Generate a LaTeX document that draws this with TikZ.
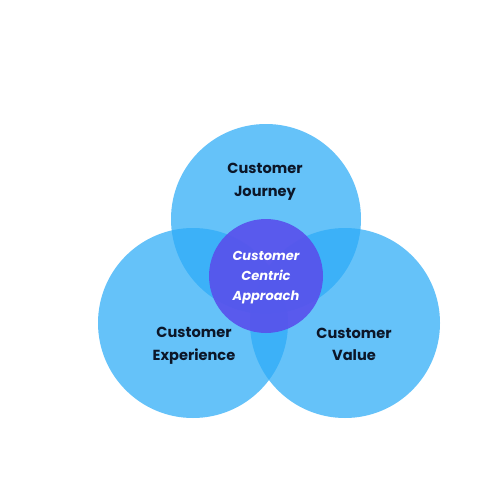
\documentclass[tikz,border=0pt]{standalone}
\usepackage{fontspec}
\setmainfont{Poppins}
\definecolor{bluec}{RGB}{45,172,248}
\definecolor{purplec}{RGB}{88,82,236}
\definecolor{navy}{RGB}{12,22,40}
\begin{document}
\begin{tikzpicture}[x=1pt,y=-1pt,
  venn/.style={circle,fill=bluec,fill opacity=0.73,minimum size=190pt,inner sep=0pt},
  core/.style={circle,fill=purplec,fill opacity=0.92,minimum size=114pt,inner sep=0pt},
  lbl/.style={text=navy,font=\fontsize{14.6}{22.5}\selectfont\bfseries,align=center,text opacity=1},
  clbl/.style={text=white,font=\fontsize{13}{20}\selectfont\bfseries\itshape,align=center,text opacity=1}]
\useasboundingbox (0,0) rectangle (500,500);
\fill[white] (0,0) rectangle (500,500);
\node[venn] (top) at (266,219) {};
\node[venn] (left) at (193,323) {};
\node[venn] (right) at (345,323) {};
\node[core] (core) at (266,276) {};
\node[lbl] (tj) at (265,182) {Customer\\Journey};
\node[lbl] (te) at (194,346) {Customer\\Experience};
\node[lbl] (tv) at (354,344.5) {Customer\\Value};
\node[clbl] (tc) at (266,278) {Customer\\Centric\\Approach};
\end{tikzpicture}
\end{document}
